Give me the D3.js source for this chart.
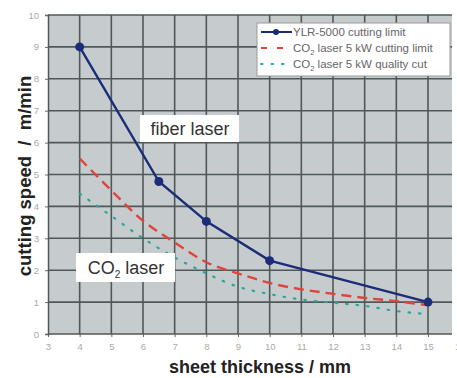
<!DOCTYPE html>
<html>
<head>
<meta charset="utf-8">
<script src="https://cdn.jsdelivr.net/npm/d3@7"></script>
<style>
  body { margin: 0; background: #fff; }
  svg { display: block; font-family: Arial, "Liberation Sans", sans-serif; }
</style>
</head>
<body>
<svg id="chart" width="457" height="378"></svg>
<script>
(function () {
    'use strict';

    // data
    const xTicks = [3, 4, 5, 6, 7, 8, 9, 10, 11, 12, 13, 14, 15, 16];
    const yTicks = [0, 1, 2, 3, 4, 5, 6, 7, 8, 9, 10];

    const fiberX = [4, 6.5, 8, 10, 15];
    const fiberY = [9.0, 4.78, 3.53, 2.3, 1.0];

    const co2LimitX = [4, 5, 6, 7, 8, 9, 10, 11, 12, 13, 14, 15];
    const co2LimitY = [5.5, 4.5, 3.55, 2.87, 2.25, 1.9, 1.6, 1.4, 1.26, 1.13, 1.03, 0.9];

    const co2QualityX = [4, 5, 6, 7, 8, 9, 10, 11, 12, 13, 14, 15];
    const co2QualityY = [4.4, 3.7, 3.0, 2.4, 1.9, 1.48, 1.25, 1.08, 0.98, 0.88, 0.72, 0.62];

    const legendLabels = [
        ["YLR-5000 cutting limit", null, null],
        ["CO", "2", " laser 5 kW cutting limit"],
        ["CO", "2", " laser 5 kW quality cut"]
    ];

    const plot = {left: 48, right: 452, top: 15, bottom: 334};

    let x = d3.scaleLinear().domain([3, 15]).range([48, 428]);
    let y = d3.scaleLinear().domain([0, 10]).range([334, 15]);

    let svg = d3.select('#chart');

    svg.append('defs').append('clipPath').attr('id', 'clip')
        .append('rect')
        .attr('x', plot.left).attr('y', plot.top - 1)
        .attr('width', plot.right - plot.left).attr('height', plot.bottom - plot.top + 2);

    // plot background
    svg.append('rect')
        .attr('x', plot.left).attr('y', plot.top)
        .attr('width', plot.right - plot.left).attr('height', plot.bottom - plot.top)
        .attr('fill', '#c6ccce');

    let grid = svg.append('g').attr('clip-path', 'url(#clip)');

    grid.selectAll('line.v').data(xTicks.filter(d => d > 3)).join('line')
        .attr('class', 'v')
        .attr('x1', d => x(d)).attr('x2', d => x(d))
        .attr('y1', plot.top).attr('y2', plot.bottom)
        .attr('stroke', '#4f5858').attr('stroke-width', 1.6);

    grid.selectAll('line.h').data(yTicks.filter(d => d > 0)).join('line')
        .attr('class', 'h')
        .attr('x1', plot.left).attr('x2', plot.right)
        .attr('y1', d => y(d)).attr('y2', d => y(d))
        .attr('stroke', '#4f5858').attr('stroke-width', 1.6);

    // axes
    let xAxis = d3.axisBottom(x).tickValues(xTicks).tickSize(3).tickPadding(6);
    svg.append('g')
        .attr('transform', `translate(0,${plot.bottom})`)
        .call(xAxis)
        .call(g => g.select('.domain').attr('d', `M${plot.left},0H${plot.right}`).attr('stroke', '#555').attr('stroke-width', 1.5))
        .call(g => g.selectAll('.tick line').attr('stroke', '#666'))
        .call(g => g.selectAll('.tick text').attr('fill', '#a8a8a8').attr('font-size', 9.5));

    let yAxis = d3.axisLeft(y).tickValues(yTicks).tickSize(3).tickPadding(6);
    svg.append('g')
        .attr('transform', `translate(${plot.left},0)`)
        .call(yAxis)
        .call(g => g.select('.domain').attr('stroke', '#555').attr('stroke-width', 1.5))
        .call(g => g.selectAll('.tick line').attr('stroke', '#666'))
        .call(g => g.selectAll('.tick text').attr('fill', '#a8a8a8').attr('font-size', 9.5));

    svg.append('text')
        .attr('x', 260).attr('y', 373)
        .attr('text-anchor', 'middle')
        .attr('font-size', 18).attr('font-weight', 'bold').attr('fill', '#222')
        .text('sheet thickness / mm');

    svg.append('text')
        .attr('transform', 'translate(31,176) rotate(-90)')
        .attr('text-anchor', 'middle')
        .attr('font-size', 18.5).attr('font-weight', 'bold').attr('fill', '#222')
        .text('cutting speed\u00a0\u00a0/\u00a0\u00a0m/min');

    // series
    let line = d3.line().x(d => x(d[0])).y(d => y(d[1]));
    let curve = d3.line().x(d => x(d[0])).y(d => y(d[1])).curve(d3.curveMonotoneX);

    let series = svg.append('g').attr('clip-path', 'url(#clip)');

    series.append('path')
        .datum(d3.zip(co2QualityX, co2QualityY))
        .attr('d', curve)
        .attr('fill', 'none').attr('stroke', '#2aa59a').attr('stroke-width', 2.2)
        .attr('stroke-dasharray', '1.5,9').attr('stroke-linecap', 'round');

    series.append('path')
        .datum(d3.zip(co2LimitX, co2LimitY))
        .attr('d', curve)
        .attr('fill', 'none').attr('stroke', '#e0443c').attr('stroke-width', 2.4)
        .attr('stroke-dasharray', '10,6');

    series.append('path')
        .datum(d3.zip(fiberX, fiberY))
        .attr('d', line)
        .attr('fill', 'none').attr('stroke', '#1b2c78').attr('stroke-width', 2.4);

    series.selectAll('circle').data(d3.zip(fiberX, fiberY)).join('circle')
        .attr('cx', d => x(d[0])).attr('cy', d => y(d[1])).attr('r', 4.5)
        .attr('fill', '#1b2c78');

    // annotation boxes
    function labelBox(bx, by, bw, bh) {
        svg.append('rect')
            .attr('x', bx).attr('y', by).attr('width', bw).attr('height', bh)
            .attr('fill', '#fff');
    }

    labelBox(140, 115, 99, 27);
    svg.append('text')
        .attr('x', 190).attr('y', 135)
        .attr('text-anchor', 'middle')
        .attr('font-size', 18).attr('fill', '#333')
        .text('fiber laser');

    labelBox(76, 253, 99, 29);
    let co2Text = svg.append('text')
        .attr('x', 126).attr('y', 274)
        .attr('text-anchor', 'middle')
        .attr('font-size', 18).attr('fill', '#333');
    co2Text.append('tspan').text('CO');
    co2Text.append('tspan').attr('font-size', 10).attr('dy', 4).text('2');
    co2Text.append('tspan').attr('dy', -4).text(' laser');

    // legend
    let legend = svg.append('g');
    legend.append('rect')
        .attr('x', 257).attr('y', 23).attr('width', 193).attr('height', 53)
        .attr('fill', '#fff').attr('stroke', '#999').attr('stroke-width', 1);

    const rows = [32, 48, 64];
    const sampleStyles = [
        {stroke: '#1b2c78', dash: null, marker: true},
        {stroke: '#e0443c', dash: '6,10', marker: false},
        {stroke: '#2aa59a', dash: '1.5,9', marker: false}
    ];

    legendLabels.forEach((lab, i) => {
        let yy = rows[i];
        let st = sampleStyles[i];
        legend.append('line')
            .attr('x1', 261).attr('x2', 292).attr('y1', yy).attr('y2', yy)
            .attr('stroke', st.stroke).attr('stroke-width', 2)
            .attr('stroke-dasharray', st.dash)
            .attr('stroke-linecap', st.dash === '1.5,9' ? 'round' : 'butt');
        if (st.marker) {
            legend.append('circle').attr('cx', 276).attr('cy', yy).attr('r', 3).attr('fill', st.stroke);
        }
        let t = legend.append('text')
            .attr('x', 293).attr('y', yy + 4)
            .attr('font-size', 11.5).attr('fill', '#666');
        t.append('tspan').text(lab[0]);
        if (lab[1]) {
            t.append('tspan').attr('font-size', 7.5).attr('dy', 2.5).text(lab[1]);
            t.append('tspan').attr('dy', -2.5).text(lab[2]);
        }
    });
})();
</script>
</body>
</html>
